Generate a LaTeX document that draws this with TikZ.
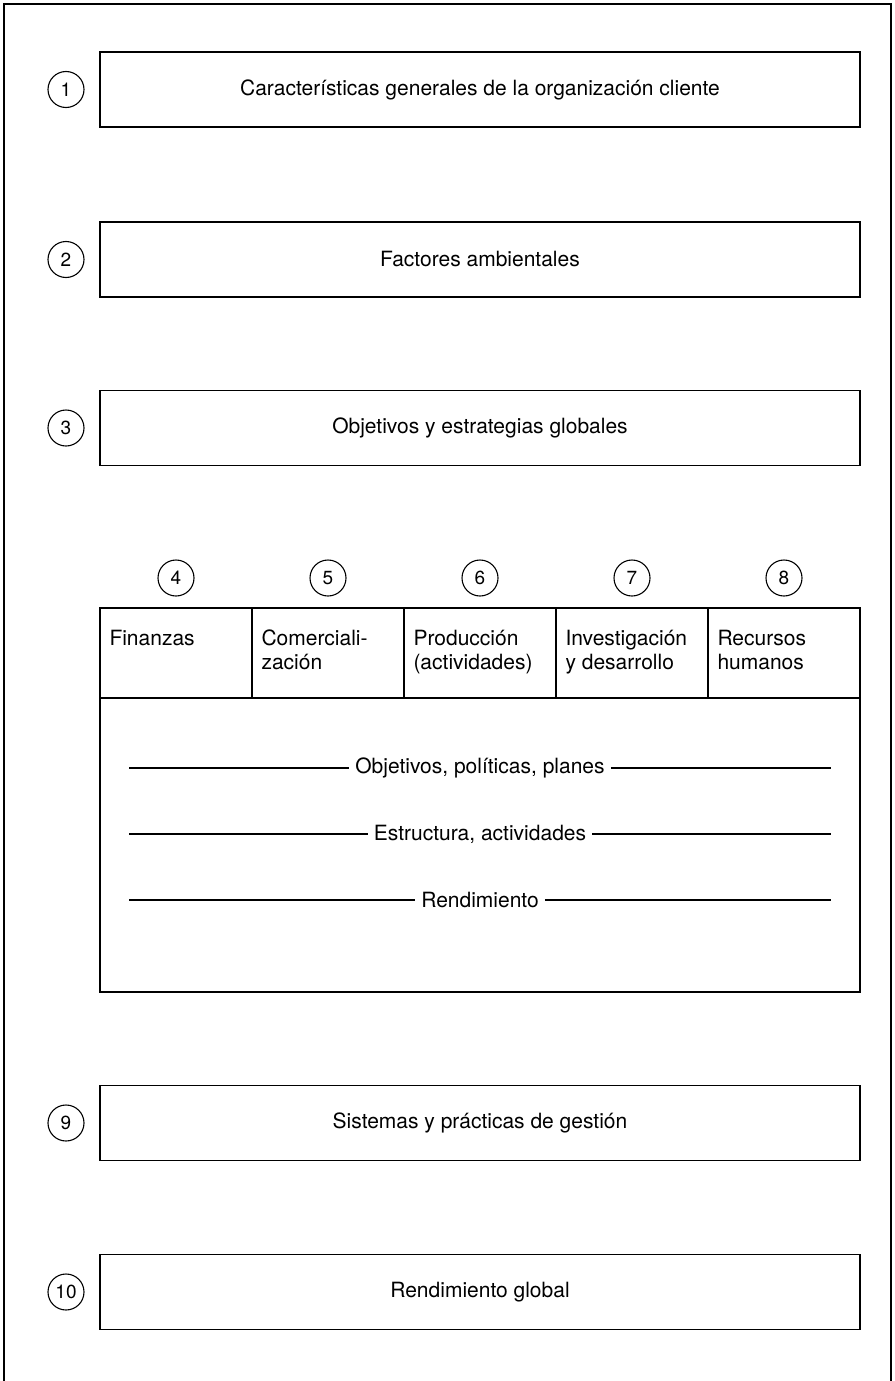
\documentclass[tikz,border=0pt]{standalone}
\usepackage{fontspec}
\setmainfont{TeX Gyre Heros}
\usetikzlibrary{positioning}

\begin{document}
\begin{tikzpicture}[x=1pt,y=1pt,node distance=170pt,on grid,
    box/.style={draw,line width=1.4pt,minimum width=760pt,minimum height=75pt,inner sep=0pt,font=\fontsize{21}{24}\selectfont},
    num/.style={draw,circle,line width=1.1pt,minimum size=36pt,inner sep=0pt,font=\fontsize{19}{19}\selectfont},
    col/.style={draw,line width=1.4pt,minimum width=152pt,minimum height=90pt,inner sep=0pt},
    coltext/.style={anchor=north west,align=left,inner sep=0pt,font=\fontsize{21}{24}\selectfont},
    rule/.style={line width=1.2pt},
    ruletext/.style={inner sep=6pt,font=\fontsize{21}{24}\selectfont}]
  \useasboundingbox (0,0) rectangle (894,-1381);
  \draw[line width=1.4pt] (4,-1381) -- (4,-4) -- (891,-4) -- (891,-1381);

  \node[box] (b1) at (480,-89.5) {Características generales de la organización cliente};
  \node[box] (b2) [below=of b1] {Factores ambientales};
  \node[box] (b3) [below=168.5pt of b2] {Objetivos y estrategias globales};
  \node[num] (n1) [left=414pt of b1] {1};
  \node[num] (n2) [left=414pt of b2] {2};
  \node[num] (n3) [left=414pt of b3] {3};

  \node[col] (c4) at (176,-653) {};
  \node[col] (c5) [right=152pt of c4] {};
  \node[col] (c6) [right=152pt of c5] {};
  \node[col] (c7) [right=152pt of c6] {};
  \node[col] (c8) [right=152pt of c7] {};
  \node[num] (n4) [above=75pt of c4] {4};
  \node[num] (n5) [above=75pt of c5] {5};
  \node[num] (n6) [above=75pt of c6] {6};
  \node[num] (n7) [above=75pt of c7] {7};
  \node[num] (n8) [above=75pt of c8] {8};
  \node[coltext] (t4) at ([shift={(10pt,-22.5pt)}]c4.north west) {Finanzas};
  \node[coltext] (t5) at ([shift={(10pt,-22.5pt)}]c5.north west) {Comerciali-\\zación};
  \node[coltext] (t6) at ([shift={(10pt,-22.5pt)}]c6.north west) {Producción\\(actividades)};
  \node[coltext] (t7) at ([shift={(10pt,-22.5pt)}]c7.north west) {Investigación\\y desarrollo};
  \node[coltext] (t8) at ([shift={(10pt,-22.5pt)}]c8.north west) {Recursos\\humanos};

  \node[col,minimum width=760pt,minimum height=294pt] (area) [below=192pt of c6] {};
  \node[ruletext] (r1) [below=115pt of c6] {Objetivos, políticas, planes};
  \node[ruletext] (r2) [below=66pt of r1] {Estructura, actividades};
  \node[ruletext] (r3) [below=66pt of r2] {Rendimiento};
  \draw[rule] ([xshift=30pt]area.west |- r1) -- (r1) -- ([xshift=-30pt]area.east |- r1);
  \draw[rule] ([xshift=30pt]area.west |- r2) -- (r2) -- ([xshift=-30pt]area.east |- r2);
  \draw[rule] ([xshift=30pt]area.west |- r3) -- (r3) -- ([xshift=-30pt]area.east |- r3);

  \node[box] (b9) [below=278pt of area] {Sistemas y prácticas de gestión};
  \node[box] (b10) [below=169pt of b9] {Rendimiento global};
  \node[num] (n9) [left=414pt of b9] {9};
  \node[num] (n10) [left=414pt of b10] {10};
\end{tikzpicture}
\end{document}
